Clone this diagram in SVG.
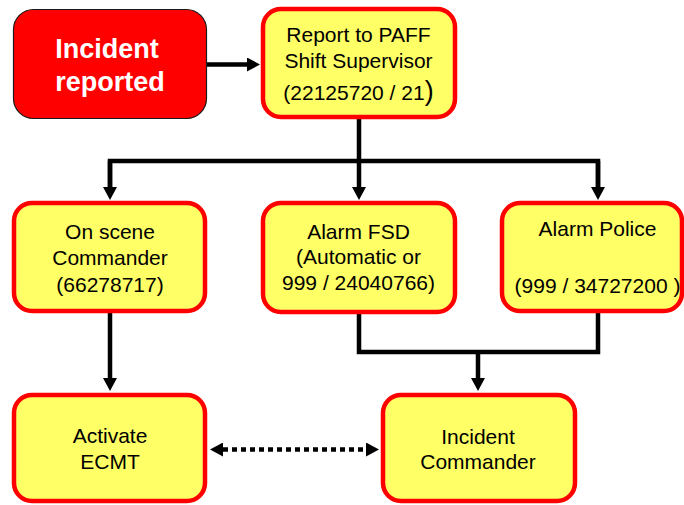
<svg xmlns="http://www.w3.org/2000/svg" width="684" height="505" viewBox="0 0 684 505">
  <style>
    .box { fill: #FFFF66; stroke: #FF0000; stroke-width: 4.5; }
    .start { fill: #FF0000; stroke: #1a1a1a; stroke-width: 1.2; }
    .lbl { font-family: "Liberation Sans", Arial, sans-serif; font-size: 21px; fill: #000; text-anchor: middle; }
    .hot { font-family: "Liberation Sans", Arial, sans-serif; font-size: 27px; font-weight: bold; fill: #FFFFFF; text-anchor: middle; }
    .wire { fill: none; stroke: #000; stroke-width: 4.5; }
    .dots { fill: none; stroke: #000; stroke-width: 4.5; stroke-dasharray: 5 4; }
  </style>
  <defs>
    <marker id="head" markerUnits="userSpaceOnUse" markerWidth="14" markerHeight="14" refX="0" refY="7" orient="auto-start-reverse">
      <path d="M0,0 L13,7 L0,14 z" fill="#000"/>
    </marker>
  </defs>

  <rect width="684" height="505" fill="#FFFFFF"/>

  <g id="connectors">
    <!-- incident to supervisor -->
    <path class="wire" d="M207,64.5 H247" marker-end="url(#head)"/>
    <!-- supervisor fans out to three alarms -->
    <path class="wire" d="M359,118 V161"/>
    <path class="wire" d="M110,187 V161 H598 V187"/>
    <path class="wire" d="M359,161 V187" marker-end="url(#head)"/>
    <path class="wire" d="M110,161 V187" marker-end="url(#head)"/>
    <path class="wire" d="M598,161 V187" marker-end="url(#head)"/>
    <!-- on scene commander to ECMT -->
    <path class="wire" d="M110,313 V378" marker-end="url(#head)"/>
    <!-- FSD and police join to incident commander -->
    <path class="wire" d="M359,314 V352 H598 V313"/>
    <path class="wire" d="M478,352 V378" marker-end="url(#head)"/>
    <!-- two-way link ECMT / incident commander -->
    <path class="dots" d="M223,449.5 H366" marker-start="url(#head)" marker-end="url(#head)"/>
  </g>

  <g id="incident-reported">
    <rect class="start" x="13.5" y="9.5" width="193" height="109" rx="20"/>
    <text class="hot" x="107" y="58">Incident</text>
    <text class="hot" x="110" y="90.5">reported</text>
  </g>

  <g id="shift-supervisor">
    <rect class="box" x="263" y="9" width="192" height="108" rx="18"/>
    <text class="lbl" x="358.5" y="42">Report to PAFF</text>
    <text class="lbl" x="358.5" y="68">Shift Supervisor</text>
    <text class="lbl" x="358.5" y="100">(22125720 / 21<tspan font-size="27">)</tspan></text>
  </g>

  <g id="on-scene-commander">
    <rect class="box" x="14" y="203" width="191" height="108" rx="18"/>
    <text class="lbl" x="110" y="239">On scene</text>
    <text class="lbl" x="110" y="265">Commander</text>
    <text class="lbl" x="110" y="292">(66278717)</text>
  </g>

  <g id="alarm-fsd">
    <rect class="box" x="263" y="203" width="192" height="109" rx="18"/>
    <text class="lbl" x="358.5" y="239">Alarm FSD</text>
    <text class="lbl" x="358.5" y="264">(Automatic or</text>
    <text class="lbl" x="358.5" y="290">999 / 24040766)</text>
  </g>

  <g id="alarm-police">
    <rect class="box" x="502" y="203" width="180" height="108" rx="18"/>
    <text class="lbl" x="597.5" y="236">Alarm Police</text>
    <text class="lbl" x="597.5" y="293">(999 / 34727200 )</text>
  </g>

  <g id="activate-ecmt">
    <rect class="box" x="14" y="395" width="191" height="106" rx="18"/>
    <text class="lbl" x="110" y="443">Activate</text>
    <text class="lbl" x="110" y="469">ECMT</text>
  </g>

  <g id="incident-commander">
    <rect class="box" x="383" y="395" width="192" height="106" rx="18"/>
    <text class="lbl" x="478" y="444">Incident</text>
    <text class="lbl" x="478" y="469">Commander</text>
  </g>
</svg>
